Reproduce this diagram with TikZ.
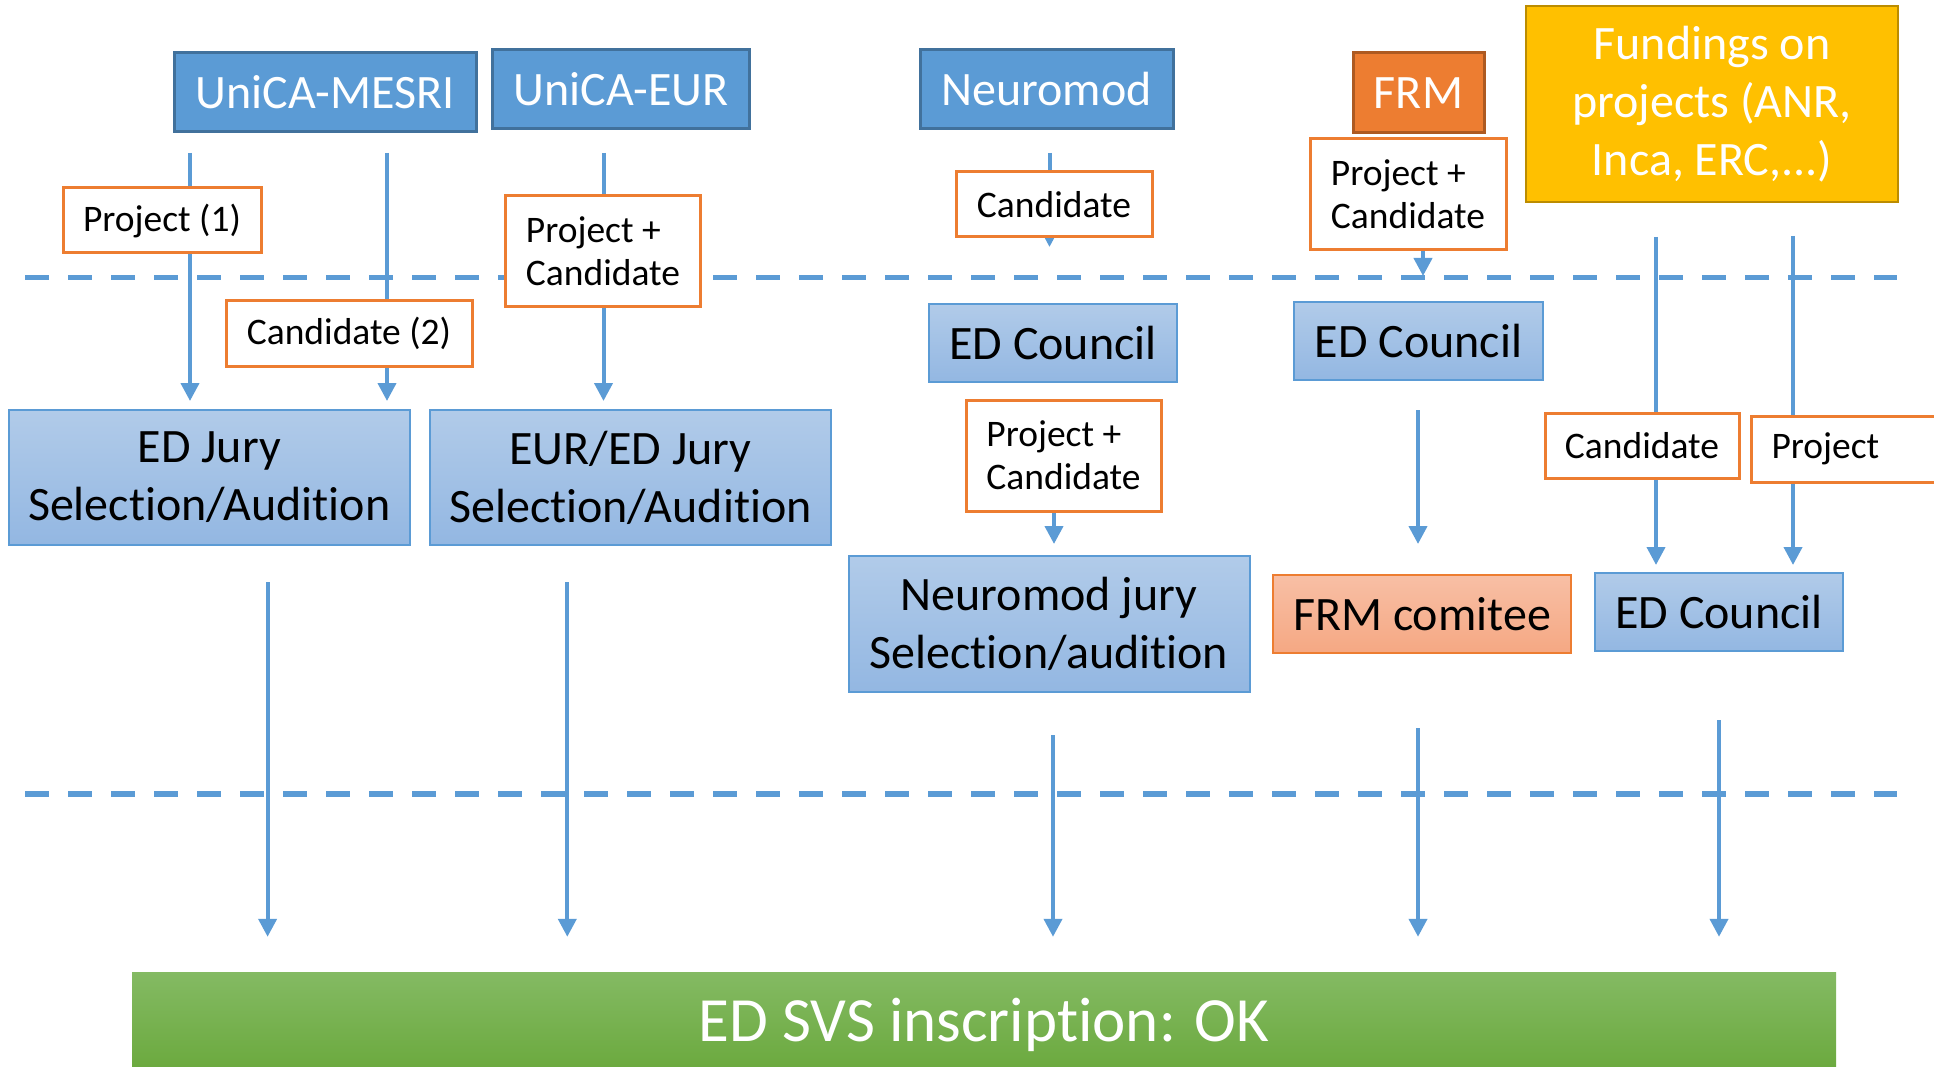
\documentclass[tikz,border=0pt]{standalone}
\usepackage{fontspec}
\setmainfont{Carlito}[Ligatures={NoCommon}]
\usetikzlibrary{arrows.meta}
\definecolor{bl}{HTML}{5B9BD5}
\definecolor{bldk}{HTML}{41719C}
\definecolor{orng}{HTML}{ED7D31}
\definecolor{orngdk}{HTML}{AE5A21}
\definecolor{yl}{HTML}{FFC000}
\definecolor{yldk}{HTML}{BC8C00}
\definecolor{lbtop}{HTML}{B1CBE9}
\definecolor{lbbot}{HTML}{93B7E2}
\definecolor{lotop}{HTML}{F8BFA5}
\definecolor{lobot}{HTML}{F5A883}
\definecolor{gntop}{HTML}{84BA63}
\definecolor{gnbot}{HTML}{69A83B}
\tikzstyle{hd}=[draw=bldk,fill=bl,line width=3pt,text=white,font=\fontsize{48}{58}\selectfont,inner sep=0pt]
\tikzstyle{lb}=[draw=orng,fill=white,line width=3pt,font=\fontsize{37.5}{43}\selectfont,align=left,inner sep=0pt]
\tikzstyle{jb}=[draw=bl,line width=2pt,top color=lbtop,bottom color=lbbot,font=\fontsize{48}{58}\selectfont,align=center,inner sep=0pt]
\tikzstyle{ar}=[draw=bl,line width=4pt,-{Triangle[length=18pt,width=18pt]}]
\tikzstyle{dl}=[draw=bl,line width=5.5pt,dash pattern=on 24pt off 19pt]

\begin{document}
\begin{tikzpicture}[x=1pt,y=-1pt]
\useasboundingbox (0,0) rectangle (1934,1067);
\clip (0,0) rectangle (1934,1067);
% separators
\draw[dl] (25,277.5) -- (1897,277.5);
\draw[dl] (25,794) -- (1897,794);
% funders
\node[hd,minimum width=302pt,minimum height=79pt] (mesri) at (325,92.5) {UniCA-MESRI};
\node[hd,minimum width=257pt,minimum height=79pt] (eur) at (621,89.5) {UniCA-EUR};
\node[hd,minimum width=253pt,minimum height=79pt] (neuromod) at (1046.5,89.5) {Neuromod};
\node[hd,draw=orngdk,fill=orng,minimum width=131pt,minimum height=80pt] (frm) at (1418.5,93) {FRM};
\node[hd,draw=yldk,fill=yl,line width=2.5pt,minimum width=372pt,minimum height=196pt,align=center] (fund) at (1712,104) {Fundings on\\projects (ANR,\\Inca, ERC,...)};
% selection boxes
\node[jb,minimum width=401pt,minimum height=135pt] (edjury) at (209.3,477.5) {ED Jury\\Selection/Audition};
\node[jb,minimum width=401pt,minimum height=135pt] (eurjury) at (630.5,477.5) {EUR/ED Jury\\Selection/Audition};
\node[jb,minimum width=248pt,minimum height=78pt] (council1) at (1053,343) {ED Council};
\node[jb,minimum width=249pt,minimum height=78pt] (council2) at (1418.5,341) {ED Council};
\node[jb,minimum width=401pt,minimum height=136pt] (nmjury) at (1049,624) {Neuromod jury\\Selection/audition};
\node[jb,draw=orng,top color=lotop,bottom color=lobot,minimum width=298pt,minimum height=78pt] (frmcom) at (1422,614) {FRM comitee};
\node[jb,minimum width=248pt,minimum height=78pt] (council3) at (1719,612) {ED Council};
\node[draw=none,top color=gntop,bottom color=gnbot,text=white,font=\fontsize{63}{75}\selectfont,minimum width=1704pt,minimum height=106pt,inner sep=0pt] (ok) at (984,1025) {ED SVS inscription: OK};
% arrows, upper part
\coordinate (m1) at (190,153);
\coordinate (m2) at (387,153);
\coordinate (e1) at (603.5,153);
\coordinate (n1) at (1049.5,153);
\coordinate (f1) at (1423,250);
\coordinate (n2) at (1054,511);
\coordinate (f2) at (1418,410);
\coordinate (u1) at (1656,237);
\coordinate (u2) at (1793,236);
\draw[ar,shorten >=8pt] (m1) -- (m1 |- edjury.north);
\draw[ar,shorten >=8pt] (m2) -- (m2 |- edjury.north);
\draw[ar,shorten >=8pt] (e1) -- (e1 |- eurjury.north);
\draw[ar,shorten >=56pt] (n1) -- (n1 |- council1.north);
\draw[ar,shorten >=25pt] (f1) -- (f1 |- council2.north);
\draw[ar,shorten >=11pt] (n2) -- (n2 |- nmjury.north);
\draw[ar,shorten >=30pt] (f2) -- (f2 |- frmcom.north);
\draw[ar,shorten >=7pt] (u1) -- (u1 |- council3.north);
\draw[ar,shorten >=7pt] (u2) -- (u2 |- council3.north);
% arrows, lower part
\coordinate (d1) at (267.6,582);
\coordinate (d2) at (567.3,582);
\coordinate (d3) at (1053,735);
\coordinate (d4) at (1418,728);
\coordinate (d5) at (1719,720);
\foreach \c in {d1,d2,d3,d4,d5}
  \draw[ar,shorten >=35pt] (\c) -- (\c |- ok.north);
% labels
\node[lb,minimum width=198pt,minimum height=65pt] (p1) at (162,220.5) {Project (1)};
\node[lb,minimum width=246pt,minimum height=66pt] (c2) at (349,333) {Candidate (2)};
\node[lb,minimum width=195pt,minimum height=110pt] (pceur) at (603,251) {Project +\\Candidate};
\node[lb,minimum width=196pt,minimum height=65pt] (cnm) at (1054,204.5) {Candidate};
\node[lb,minimum width=196pt,minimum height=111pt] (pcfrm) at (1408,194.5) {Project +\\Candidate};
\node[lb,minimum width=195pt,minimum height=111pt] (pcnm) at (1063.5,455.5) {Project +\\Candidate};
\node[lb,minimum width=194pt,minimum height=65pt] (cfu) at (1642,445.5) {Candidate};
\node[lb,anchor=west,text width=200pt,inner xsep=20pt,minimum height=66pt] (pfu) at (1750,449) {Project};
\end{tikzpicture}
\end{document}
